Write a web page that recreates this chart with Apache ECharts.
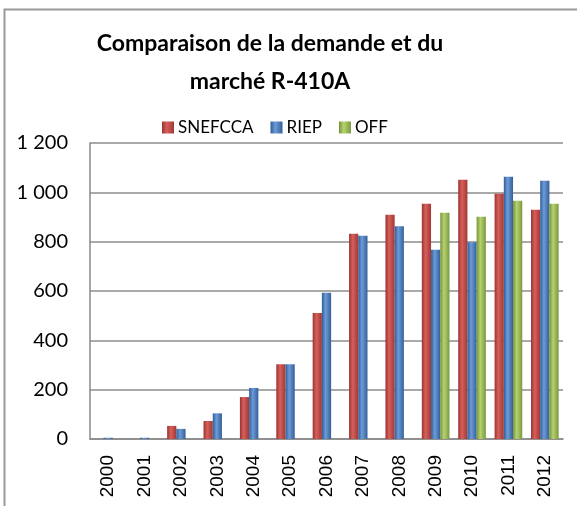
<!DOCTYPE html>
<html><head><meta charset="utf-8">
<script src="https://cdn.jsdelivr.net/npm/echarts@6/dist/echarts.min.js"></script>
<style>html,body{margin:0;padding:0;background:#fff}#c{width:577px;height:506px}</style>
</head><body><div id="c"></div>
<script>
const years = ['2000','2001','2002','2003','2004','2005','2006','2007','2008','2009','2010','2011','2012'];
const snefcca = [null,null,53,73,170,303,511,832,909,954,1051,994,929];
const riep = [5,5,41,104,207,303,593,824,863,767,798,1063,1047];
const off = [null,null,null,null,null,null,null,null,null,917,901,966,954];
const yTicks = [0,200,400,600,800,1000,1200];

function grad(a,b,c){
  return new echarts.graphic.LinearGradient(0,0,1,0,[
    {offset:0,color:a},{offset:0.4,color:b},{offset:1,color:c}]);
}
const chart = echarts.init(document.getElementById('c'));
const mk = (name,data,g) => ({
  name, type:'bar', data, barGap:'0%', barCategoryGap:'24%',
  itemStyle:{color:g}, emphasis:{disabled:true}
});
chart.setOption({
  animation:false,
  color:['#C0504D','#4F81BD','#9BBB59'],
  title:{
    text:'Comparaison de la demande et du\nmarché R-410A',
    left:265, top:20, textAlign:'center',
    textStyle:{fontFamily:'Lato, "Open Sans", sans-serif',fontSize:23,fontWeight:'bold',color:'#000',lineHeight:38,align:'center'}
  },
  legend:{
    top:119, left:162, padding:0, itemWidth:12, itemHeight:12, itemGap:17,
    icon:'rect',
    textStyle:{fontFamily:'Lato, "Open Sans", sans-serif',fontSize:17,color:'#000',padding:[0,0,0,-1]},
    data:['SNEFCCA','RIEP','OFF']
  },
  graphic:[{type:'rect',shape:{x:4.5,y:9.5,width:800,height:700},
    style:{fill:'none',stroke:'#999',lineWidth:2},silent:true}],
  grid:{left:90,right:14,top:143,bottom:67},
  xAxis:{
    type:'category', data:years,
    axisLine:{lineStyle:{color:'#888',width:1.5}},
    axisTick:{show:false},
    axisLabel:{rotate:90,margin:16,fontFamily:'"Liberation Sans", Arial, sans-serif',fontSize:19,color:'#000',interval:0}
  },
  yAxis:{
    type:'value', min:0, max:1200, interval:200,
    axisLine:{show:true,lineStyle:{color:'#888',width:1.5}},
    axisTick:{show:false},
    splitLine:{lineStyle:{color:'#8c8c8c',width:1.5}},
    axisLabel:{margin:22,fontFamily:'Lato, "Open Sans", sans-serif',fontSize:20,color:'#000',
      formatter:v=>String(v).replace(/\B(?=(\d{3})+(?!\d))/g,' ')}
  },
  series:[
    mk('SNEFCCA',snefcca,grad('#9b3330','#d65f5b','#a13835')),
    mk('RIEP',riep,grad('#2f5d96','#6c9bd8','#345f98')),
    mk('OFF',off,grad('#76923a','#b6d36f','#7b9740'))
  ]
});
</script></body></html>
